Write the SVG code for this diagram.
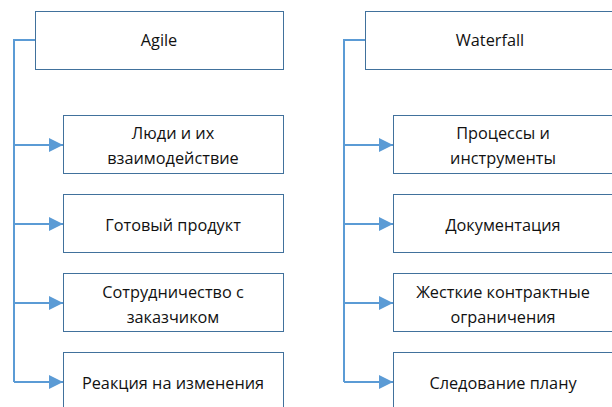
<svg xmlns="http://www.w3.org/2000/svg" width="612" height="407" viewBox="0 0 612 407">
<defs>
<style>
.box{fill:#fff;stroke:#41719c;stroke-width:1}
.t{font-family:"Open Sans","Liberation Sans",sans-serif;font-size:16.3px;fill:#111;text-anchor:middle}
.c{fill:none;stroke:#5b9bd5;stroke-width:2}
</style>
<marker id="ah" markerWidth="14" markerHeight="14" viewBox="0 0 14 14" refX="14" refY="7" orient="auto" markerUnits="userSpaceOnUse">
<path d="M0,0 L14,7 L0,14 Z" fill="#5b9bd5"/>
</marker>
</defs>
<rect width="612" height="407" fill="#fff"/>
<g id="connectors">
<path class="c" d="M35,40 H14 V382"/>
<path class="c" d="M14,145 H63" marker-end="url(#ah)"/>
<path class="c" d="M14,224 H63" marker-end="url(#ah)"/>
<path class="c" d="M14,303 H63" marker-end="url(#ah)"/>
<path class="c" d="M14,382 H63" marker-end="url(#ah)"/>
<path class="c" d="M365,40 H344 V382"/>
<path class="c" d="M344,145 H393" marker-end="url(#ah)"/>
<path class="c" d="M344,224 H393" marker-end="url(#ah)"/>
<path class="c" d="M344,303 H393" marker-end="url(#ah)"/>
<path class="c" d="M344,382 H393" marker-end="url(#ah)"/>
</g>
<g id="agile"><rect class="box" x="35.5" y="11.5" width="248" height="58"/><text class="t" x="159" y="46">Agile</text></g>
<g id="a1"><rect class="box" x="63.5" y="115.5" width="220" height="58"/><text class="t" x="173" y="139">Люди и их</text><text class="t" x="173" y="164">взаимодействие</text></g>
<g id="a2"><rect class="box" x="63.5" y="194.5" width="220" height="58"/><text class="t" x="173" y="231">Готовый продукт</text></g>
<g id="a3"><rect class="box" x="63.5" y="273.5" width="220" height="58"/><text class="t" x="173" y="298">Сотрудничество с</text><text class="t" x="173" y="323">заказчиком</text></g>
<g id="a4"><rect class="box" x="63.5" y="352.5" width="220" height="58"/><text class="t" x="173" y="389">Реакция на изменения</text></g>
<g id="waterfall"><rect class="box" x="365.5" y="11.5" width="248" height="58"/><text class="t" x="490" y="46">Waterfall</text></g>
<g id="w1"><rect class="box" x="393.5" y="115.5" width="220" height="58"/><text class="t" x="503" y="139">Процессы и</text><text class="t" x="503" y="164">инструменты</text></g>
<g id="w2"><rect class="box" x="393.5" y="194.5" width="220" height="58"/><text class="t" x="503" y="231">Документация</text></g>
<g id="w3"><rect class="box" x="393.5" y="273.5" width="220" height="58"/><text class="t" x="503" y="298">Жесткие контрактные</text><text class="t" x="503" y="323">ограничения</text></g>
<g id="w4"><rect class="box" x="393.5" y="352.5" width="220" height="58"/><text class="t" x="503" y="389">Следование плану</text></g>
</svg>
